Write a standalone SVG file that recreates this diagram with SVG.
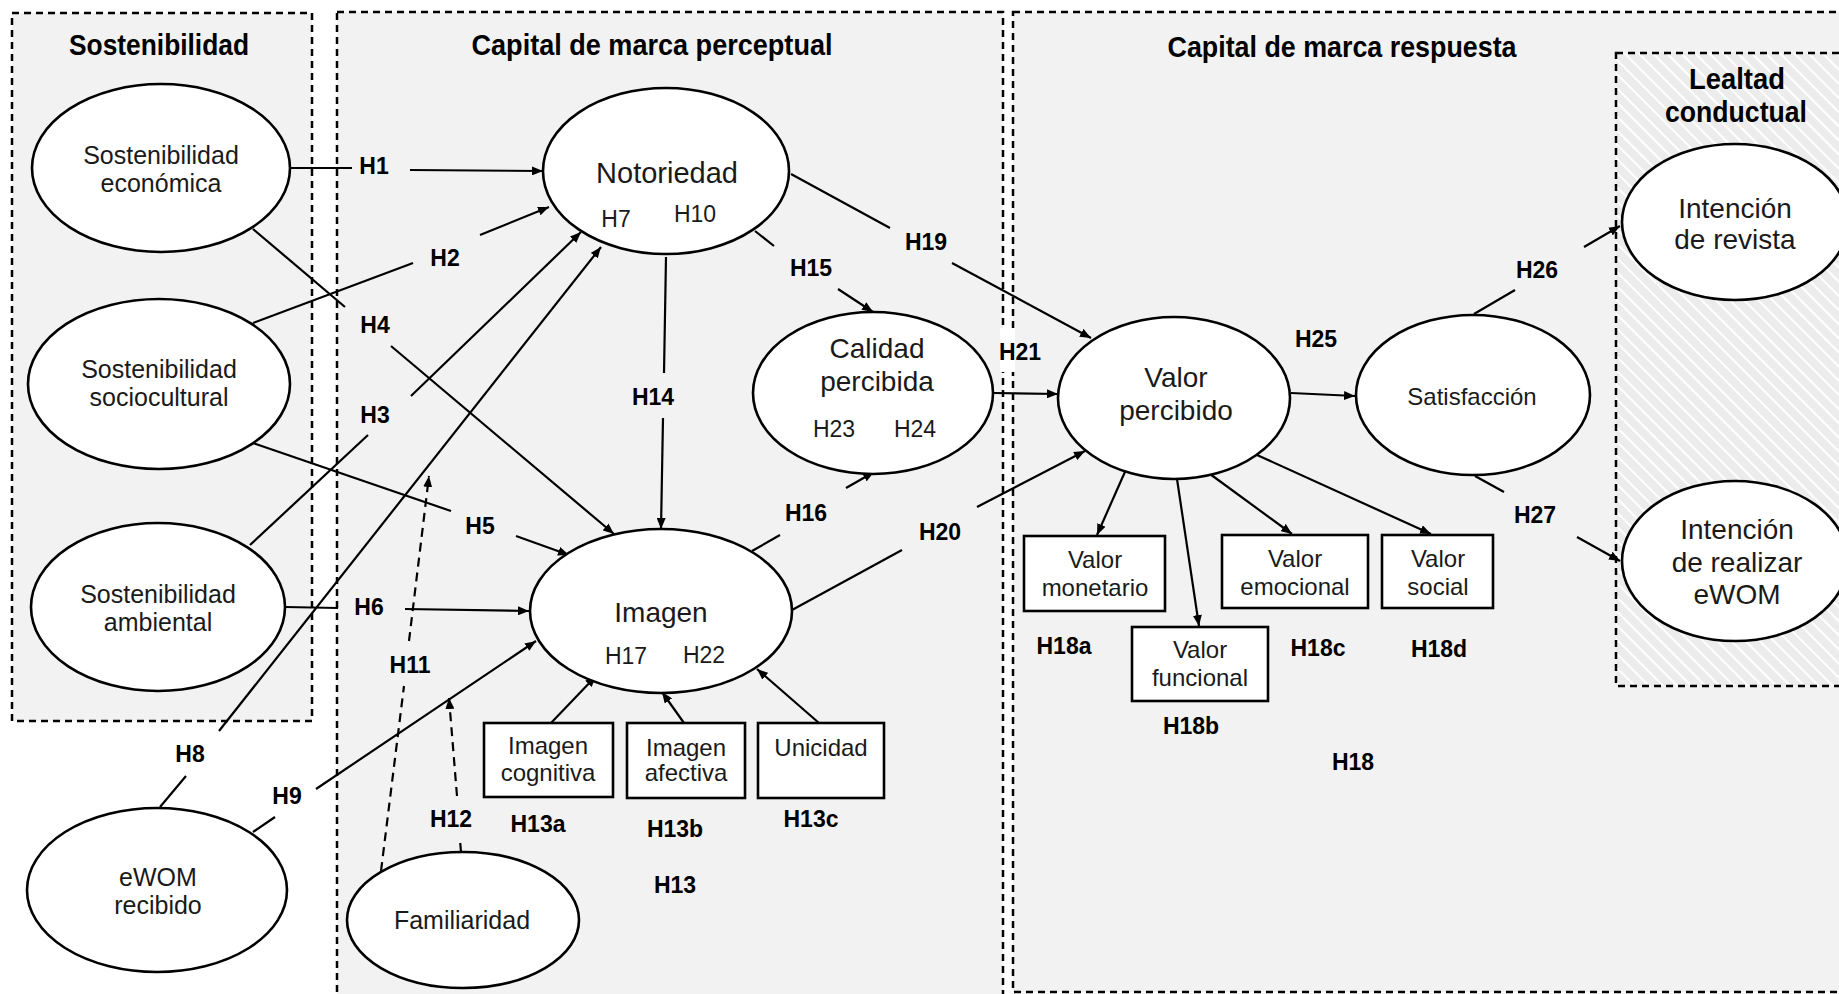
<svg xmlns="http://www.w3.org/2000/svg" width="1839" height="994" viewBox="0 0 1839 994">
  <style>
    .panel { fill: #f2f2f2; stroke: #000; stroke-width: 2.5; stroke-dasharray: 7 5; }
    .title { font-family: "Liberation Sans", Arial, sans-serif; font-weight: bold; font-size: 29px; text-anchor: middle; fill: #000; }
    .node ellipse, .node rect { fill: #fff; stroke: #000; stroke-width: 2.6; }
    .node text { font-family: "Liberation Sans", Arial, sans-serif; text-anchor: middle; fill: #1a1a1a; }
    .n24 { font-size: 24px; }
    .n25 { font-size: 25px; }
    .n28 { font-size: 28px; }
    .n29 { font-size: 29px; }
    .edge { stroke: #000; stroke-width: 2.2; fill: none; }
    .dash { stroke-dasharray: 9 6; }
    .lbl { font-family: "Liberation Sans", Arial, sans-serif; font-weight: bold; font-size: 23px; text-anchor: middle; fill: #000; }
    .inner { font-family: "Liberation Sans", Arial, sans-serif; font-size: 23px; text-anchor: middle; fill: #1a1a1a; }
  </style>
  <defs>
    <marker id="arrow" viewBox="0 0 11 9" refX="11" refY="4.5" markerWidth="11" markerHeight="9" markerUnits="userSpaceOnUse" orient="auto">
      <path d="M0,0 L11,4.5 L0,9 z" fill="#000"/>
    </marker>
    <pattern id="hatch" width="10" height="10" patternUnits="userSpaceOnUse" patternTransform="rotate(-45)">
      <rect width="10" height="10" fill="#ececec"/>
      <line x1="0" y1="0" x2="0" y2="10" stroke="#fff" stroke-width="4"/>
    </pattern>
  </defs>

  <rect width="1839" height="994" fill="#fff"/>

  <!-- construct panels -->
  <g id="panels">
    <rect class="panel" x="12" y="13" width="300" height="708"/>
    <rect class="panel" x="337" y="12" width="666" height="1000"/>
    <rect class="panel" x="1013" y="12" width="900" height="980"/>
    <rect class="panel" x="1616" y="53" width="300" height="633" style="fill:url(#hatch)"/>
    <!-- gap in the panel borders behind H21 -->
    <rect x="1000" y="328" width="15" height="44" fill="#fff"/>
    <text class="title" x="159" y="55" textLength="180" lengthAdjust="spacingAndGlyphs">Sostenibilidad</text>
    <text class="title" x="652" y="55" textLength="361" lengthAdjust="spacingAndGlyphs">Capital de marca perceptual</text>
    <text class="title" x="1342" y="57" textLength="349" lengthAdjust="spacingAndGlyphs">Capital de marca respuesta</text>
    <text class="title" x="1737" y="89" textLength="96" lengthAdjust="spacingAndGlyphs">Lealtad</text>
    <text class="title" x="1736" y="122" textLength="142" lengthAdjust="spacingAndGlyphs">conductual</text>
  </g>

  <!-- hypothesis paths -->
  <g id="connectors">
    <line class="edge" x1="290" y1="168" x2="352" y2="168"/>
    <line class="edge" x1="410" y1="170" x2="543" y2="171" marker-end="url(#arrow)"/>
    <line class="edge" x1="253" y1="323" x2="413" y2="263"/>
    <line class="edge" x1="480" y1="235" x2="549" y2="207" marker-end="url(#arrow)"/>
    <line class="edge" x1="250" y1="545" x2="368" y2="435"/>
    <line class="edge" x1="411" y1="396" x2="581" y2="232" marker-end="url(#arrow)"/>
    <line class="edge" x1="253" y1="229" x2="345" y2="307"/>
    <line class="edge" x1="391" y1="346" x2="614" y2="534" marker-end="url(#arrow)"/>
    <line class="edge" x1="253" y1="443" x2="451" y2="511"/>
    <line class="edge" x1="516" y1="536" x2="569" y2="555" marker-end="url(#arrow)"/>
    <line class="edge" x1="285" y1="607" x2="338" y2="608"/>
    <line class="edge" x1="405" y1="609" x2="529" y2="611" marker-end="url(#arrow)"/>
    <line class="edge" x1="160" y1="807" x2="186" y2="776"/>
    <line class="edge" x1="219" y1="731" x2="601" y2="247" marker-end="url(#arrow)"/>
    <line class="edge" x1="253" y1="832" x2="275" y2="817"/>
    <line class="edge" x1="316" y1="789" x2="536" y2="641" marker-end="url(#arrow)"/>
    <line class="edge dash" x1="381" y1="871" x2="404" y2="686"/>
    <line class="edge dash" x1="409" y1="641" x2="429" y2="476" marker-end="url(#arrow)"/>
    <line class="edge dash" x1="461" y1="852" x2="460" y2="840"/>
    <line class="edge dash" x1="457" y1="796" x2="449" y2="698" marker-end="url(#arrow)"/>
    <line class="edge" x1="666" y1="257" x2="664" y2="373"/>
    <line class="edge" x1="663" y1="418" x2="661" y2="529" marker-end="url(#arrow)"/>
    <line class="edge" x1="755" y1="231" x2="774" y2="246"/>
    <line class="edge" x1="838" y1="289" x2="873" y2="312" marker-end="url(#arrow)"/>
    <line class="edge" x1="752" y1="551" x2="780" y2="535"/>
    <line class="edge" x1="846" y1="488" x2="874" y2="472" marker-end="url(#arrow)"/>
    <line class="edge" x1="791" y1="174" x2="890" y2="228"/>
    <line class="edge" x1="952" y1="263" x2="1091" y2="338" marker-end="url(#arrow)"/>
    <line class="edge" x1="792" y1="610" x2="902" y2="550"/>
    <line class="edge" x1="977" y1="507" x2="1085" y2="451" marker-end="url(#arrow)"/>
    <line class="edge" x1="994" y1="393" x2="1058" y2="394" marker-end="url(#arrow)"/>
    <line class="edge" x1="1128" y1="465" x2="1097" y2="535" marker-end="url(#arrow)"/>
    <line class="edge" x1="1177" y1="479" x2="1199" y2="626" marker-end="url(#arrow)"/>
    <line class="edge" x1="1210" y1="474" x2="1292" y2="534" marker-end="url(#arrow)"/>
    <line class="edge" x1="1257" y1="455" x2="1431" y2="534" marker-end="url(#arrow)"/>
    <line class="edge" x1="1291" y1="393" x2="1355" y2="396" marker-end="url(#arrow)"/>
    <line class="edge" x1="1474" y1="314" x2="1515" y2="290"/>
    <line class="edge" x1="1584" y1="247" x2="1620" y2="226" marker-end="url(#arrow)"/>
    <line class="edge" x1="1475" y1="476" x2="1504" y2="492"/>
    <line class="edge" x1="1577" y1="537" x2="1620" y2="561" marker-end="url(#arrow)"/>
    <line class="edge" x1="551" y1="723" x2="596" y2="676" marker-end="url(#arrow)"/>
    <line class="edge" x1="684" y1="723" x2="662" y2="692" marker-end="url(#arrow)"/>
    <line class="edge" x1="819" y1="723" x2="757" y2="669" marker-end="url(#arrow)"/>
  </g>

  <g id="sost-economica" class="node">
    <ellipse cx="161" cy="168" rx="129" ry="84"/>
    <text class="n25" x="161" y="164">Sostenibilidad</text>
    <text class="n25" x="161" y="192">económica</text>
  </g>
  <g id="sost-sociocultural" class="node">
    <ellipse cx="159" cy="384" rx="131" ry="85"/>
    <text class="n25" x="159" y="378">Sostenibilidad</text>
    <text class="n25" x="159" y="406">sociocultural</text>
  </g>
  <g id="sost-ambiental" class="node">
    <ellipse cx="158" cy="607" rx="127" ry="84"/>
    <text class="n25" x="158" y="603">Sostenibilidad</text>
    <text class="n25" x="158" y="631">ambiental</text>
  </g>
  <g id="ewom-recibido" class="node">
    <ellipse cx="157" cy="890" rx="130" ry="82"/>
    <text class="n25" x="158" y="886">eWOM</text>
    <text class="n25" x="158" y="914">recibido</text>
  </g>
  <g id="familiaridad" class="node">
    <ellipse cx="463" cy="920" rx="116" ry="68"/>
    <text class="n25" x="462" y="929">Familiaridad</text>
  </g>
  <g id="notoriedad" class="node">
    <ellipse cx="666" cy="171" rx="123" ry="83"/>
    <text class="n29" x="667" y="183">Notoriedad</text>
  </g>
  <g id="imagen" class="node">
    <ellipse cx="661" cy="611" rx="131" ry="82"/>
    <text class="n28" x="661" y="622">Imagen</text>
  </g>
  <g id="calidad-percibida" class="node">
    <ellipse cx="873" cy="393" rx="120" ry="81"/>
    <text class="n28" x="877" y="358">Calidad</text>
    <text class="n28" x="877" y="391">percibida</text>
  </g>
  <g id="valor-percibido" class="node">
    <ellipse cx="1174" cy="398" rx="116" ry="81"/>
    <text class="n28" x="1176" y="387">Valor</text>
    <text class="n28" x="1176" y="420">percibido</text>
  </g>
  <g id="satisfaccion" class="node">
    <ellipse cx="1473" cy="395" rx="117" ry="80"/>
    <text class="n24" x="1472" y="405">Satisfacción</text>
  </g>
  <g id="intencion-revista" class="node">
    <ellipse cx="1735" cy="222" rx="113" ry="78"/>
    <text class="n28" x="1735" y="218">Intención</text>
    <text class="n28" x="1735" y="249">de revista</text>
  </g>
  <g id="intencion-ewom" class="node">
    <ellipse cx="1735" cy="561" rx="113" ry="80"/>
    <text class="n28" x="1737" y="539">Intención</text>
    <text class="n28" x="1737" y="572">de realizar</text>
    <text class="n28" x="1737" y="604">eWOM</text>
  </g>
  <g id="imagen-cognitiva" class="node">
    <rect x="484" y="723" width="129" height="74"/>
    <text class="n24" x="548" y="754">Imagen</text>
    <text class="n24" x="548" y="781">cognitiva</text>
  </g>
  <g id="imagen-afectiva" class="node">
    <rect x="627" y="723" width="118" height="75"/>
    <text class="n24" x="686" y="756">Imagen</text>
    <text class="n24" x="686" y="781">afectiva</text>
  </g>
  <g id="unicidad" class="node">
    <rect x="758" y="723" width="126" height="75"/>
    <text class="n24" x="821" y="756">Unicidad</text>
  </g>
  <g id="valor-monetario" class="node">
    <rect x="1024" y="536" width="141" height="75"/>
    <text class="n24" x="1095" y="568">Valor</text>
    <text class="n24" x="1095" y="596">monetario</text>
  </g>
  <g id="valor-funcional" class="node">
    <rect x="1132" y="627" width="136" height="74"/>
    <text class="n24" x="1200" y="658">Valor</text>
    <text class="n24" x="1200" y="686">funcional</text>
  </g>
  <g id="valor-emocional" class="node">
    <rect x="1222" y="535" width="146" height="73"/>
    <text class="n24" x="1295" y="567">Valor</text>
    <text class="n24" x="1295" y="595">emocional</text>
  </g>
  <g id="valor-social" class="node">
    <rect x="1382" y="535" width="111" height="73"/>
    <text class="n24" x="1438" y="567">Valor</text>
    <text class="n24" x="1438" y="595">social</text>
  </g>

  <!-- hypothesis labels -->
  <g id="labels">
    <text class="lbl" x="374" y="174">H1</text>
    <text class="lbl" x="445" y="266">H2</text>
    <text class="lbl" x="375" y="423">H3</text>
    <text class="lbl" x="375" y="333">H4</text>
    <text class="lbl" x="480" y="534">H5</text>
    <text class="lbl" x="369" y="615">H6</text>
    <text class="lbl" x="190" y="762">H8</text>
    <text class="lbl" x="287" y="804">H9</text>
    <text class="lbl" x="410" y="673">H11</text>
    <text class="lbl" x="451" y="827">H12</text>
    <text class="lbl" x="538" y="832">H13a</text>
    <text class="lbl" x="675" y="837">H13b</text>
    <text class="lbl" x="811" y="827">H13c</text>
    <text class="lbl" x="675" y="893">H13</text>
    <text class="lbl" x="653" y="405">H14</text>
    <text class="lbl" x="811" y="276">H15</text>
    <text class="lbl" x="806" y="521">H16</text>
    <text class="lbl" x="926" y="250">H19</text>
    <text class="lbl" x="940" y="540">H20</text>
    <text class="lbl" x="1020" y="360">H21</text>
    <text class="lbl" x="1316" y="347">H25</text>
    <text class="lbl" x="1537" y="278">H26</text>
    <text class="lbl" x="1535" y="523">H27</text>
    <text class="lbl" x="1064" y="654">H18a</text>
    <text class="lbl" x="1191" y="734">H18b</text>
    <text class="lbl" x="1318" y="656">H18c</text>
    <text class="lbl" x="1439" y="657">H18d</text>
    <text class="lbl" x="1353" y="770">H18</text>
    <text class="inner" x="616" y="227">H7</text>
    <text class="inner" x="695" y="222">H10</text>
    <text class="inner" x="626" y="664">H17</text>
    <text class="inner" x="704" y="663">H22</text>
    <text class="inner" x="834" y="437">H23</text>
    <text class="inner" x="915" y="437">H24</text>
  </g>
</svg>
